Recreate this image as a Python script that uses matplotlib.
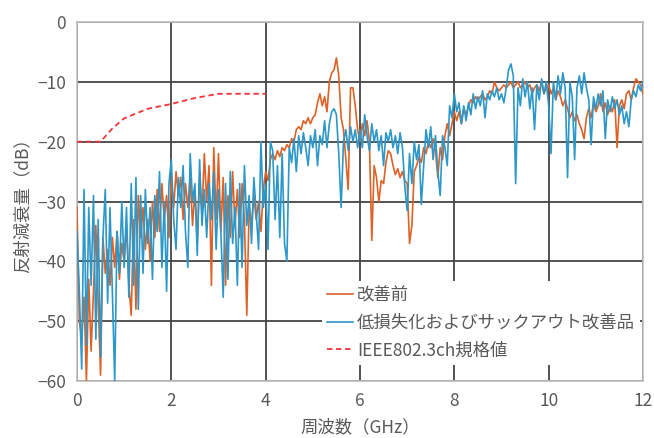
import matplotlib
matplotlib.use("Agg")
import matplotlib.pyplot as plt
import numpy as np

plt.rcParams['font.family'] = ['Noto Sans CJK JP', 'DejaVu Sans']

# 周波数 0〜12 GHz, 0.05 GHz ごと
freq = np.round(np.arange(241) * 0.05, 2)

# 改善前
before = [
    -31, -50, -53, -46, -60, -43, -55, -45, -34, -47, -59, -36, -42, -38, -44, -36, -41, -35, -43, -37,
    -40, -34, -44, -49, -33, -48, -29, -36, -31, -38, -33, -40, -30, -36, -28, -35, -27, -33, -29, -36,
    -26, -31, -25, -29, -26, -33, -27, -31, -26, -34, -28, -37, -26, -32, -22, -30, -24, -44, -21, -33,
    -22, -35, -26, -44, -29, -36, -25, -34, -28, -36, -27, -33, -49, -31, -34, -29, -33, -30, -35, -28,
    -25, -26.5, -23, -22, -23, -21.5, -22.5, -21, -21.5, -20.5, -21, -19.5, -20, -18, -17.5, -18, -16.5, -17, -16, -17,
    -16, -15.5, -13.5, -12, -14, -12.5, -15, -10, -8.5, -8, -6, -9, -16, -18, -23, -28, -11, -11, -14, -18,
    -20, -17, -19, -16.5, -20, -36.5, -24, -26, -30, -26.5, -27, -23.5, -21.5, -22, -24, -25.5, -24.5, -26, -25, -26.5,
    -27, -37, -34, -25, -24, -22.5, -23.5, -21, -22, -20, -21, -19.5, -21.5, -26, -21, -23, -19, -17, -19, -17,
    -15, -16.5, -15, -17, -14.5, -15.5, -14, -13, -13.5, -12.5, -13, -12.5, -12, -13, -12.5, -11.5, -12, -10, -11, -11.5,
    -11, -10.5, -11, -10.5, -10, -11, -10.5, -10, -11, -10.5, -10, -11, -10.5, -12, -11, -10.5, -11.5, -10, -12, -11,
    -10.5, -12, -11, -13, -11.5, -12.5, -14, -13, -14.5, -16, -15, -16.5, -15.5, -17, -18, -19.5, -16, -14.5, -16, -13.5,
    -15, -14, -12, -15, -13.5, -15.5, -14, -15, -13, -21, -14, -13, -14.5, -12, -11.5, -13, -11, -9.5, -10, -10.5,
    -12,
]

# 低損失化およびサックアウト改善品
improved = [
    -35, -45, -58, -28, -54, -31, -44, -29, -53, -33, -56, -36, -28, -47, -31, -45, -60, -35, -42, -30,
    -41, -31, -46, -27, -44, -26, -48, -29, -42, -28, -37, -31, -43, -29, -35, -25, -41, -30, -45, -27,
    -23, -33, -38, -26, -31, -24, -35, -41, -22, -30, -27, -39, -23, -34, -28, -36, -27, -33, -25, -38,
    -28, -35, -46, -27, -43, -25, -37, -31, -44, -27, -41, -24, -34, -29, -37, -26, -32, -38, -20, -31,
    -27, -38, -20, -21.5, -33, -24, -36, -22, -37, -40, -21, -23.5, -19.5, -25, -19, -22, -18.5, -21, -24, -19,
    -21, -18, -24, -19, -20.5, -16.5, -21, -17, -15, -14.5, -15.5, -22, -31, -20, -18, -21.5, -17.5, -20, -18, -21,
    -18, -21, -15.5, -19, -21.5, -17, -20, -18, -21.5, -19, -24, -18.5, -20, -18, -21, -19, -22, -18.5, -21, -27.5,
    -31.5, -22, -27, -20, -23, -20.5, -30.5, -24, -18, -21, -17.5, -23, -19, -25, -29, -19, -21, -24, -14, -16,
    -12, -15, -13.5, -17, -14, -16.5, -13.5, -15.5, -12, -14.5, -12.5, -14, -11.5, -16, -12, -13, -11.5, -12.5, -11, -13,
    -12, -13.5, -11, -8, -7, -9, -27, -11, -14, -9.5, -12.5, -10, -14.5, -11, -18, -10.5, -13, -9.5, -12, -10,
    -14, -22, -10, -13, -9, -12, -8.5, -11, -26, -10, -12.5, -23, -11, -9, -12, -8.5, -11, -13, -20.5, -12.5,
    -14.5, -12, -14, -11.5, -19.5, -13, -15, -12.5, -14.5, -13, -15.5, -14, -17, -15, -17.5, -13, -11.5, -12.5, -10.5, -11.5,
    -10,
]

# IEEE802.3ch 規格値
spec_f = [0, 0.5, 0.75, 1.0, 1.5, 2.0, 2.5, 3.0, 4.0]
spec_db = [-20, -20, -17.8, -16.1, -14.5, -13.7, -12.7, -12, -12]

xticks = [0, 2, 4, 6, 8, 10, 12]
yticks = [0, -10, -20, -30, -40, -50, -60]

gray = '#595959'

fig = plt.figure(figsize=(6.54, 4.38), dpi=100)
ax = fig.add_axes([0.1177, 0.130, 0.8655, 0.8198])

ax.plot(freq, before, color='#dd6227', lw=1.2, label='改善前', zorder=3)
ax.plot(freq, improved, color='#2c97c9', lw=1.2, label='低損失化およびサックアウト改善品', zorder=4)
ax.plot(spec_f, spec_db, color='#f2333a', lw=1.3, ls=(0, (3, 2)), label='IEEE802.3ch規格値', zorder=5)

ax.set_xlim(0, 12)
ax.set_ylim(-60, 0)
ax.set_xticks(xticks)
ax.set_yticks(yticks)
ax.tick_params(length=0, labelsize=12.5, labelcolor=gray, pad=8)
ax.grid(True, color='#444444', lw=1.3)
ax.set_axisbelow(True)
for s in ax.spines.values():
    s.set_color('#c0c0c0')
    s.set_linewidth(1.2)

ax.set_xlabel('周波数（GHz）', fontsize=12.5, color=gray, labelpad=6)
ax.set_ylabel('反射減衰量（dB）', fontsize=12.5, color=gray, labelpad=4)

leg = ax.legend(loc='upper left', bbox_to_anchor=(0.433, 0.278), frameon=True,
                fancybox=False, framealpha=1, facecolor='white', edgecolor='none',
                fontsize=12.5, handlelength=1.5, handletextpad=0.2, labelspacing=0.55,
                borderpad=0.3, borderaxespad=0)
for t in leg.get_texts():
    t.set_color(gray)
leg.set_zorder(6)

fig.savefig('out.png', dpi=100)
